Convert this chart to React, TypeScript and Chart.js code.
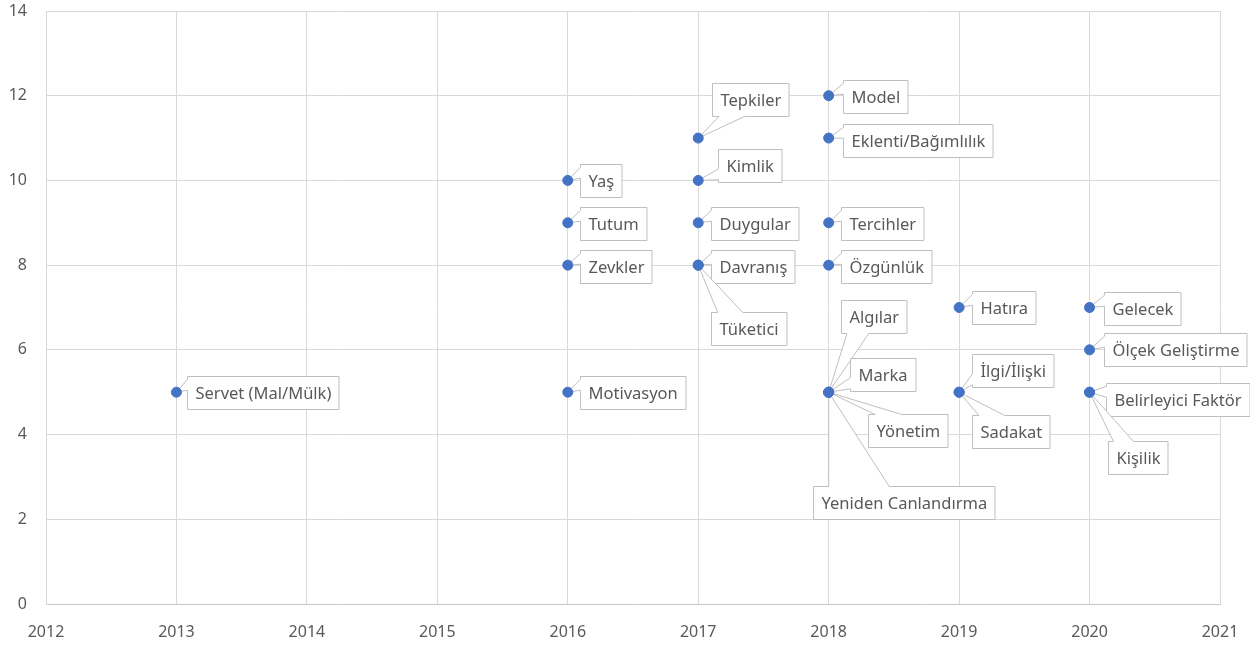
import React, { useEffect, useRef } from "react";
import { Chart, registerables } from "chart.js";

Chart.register(...registerables);

// ---- data ----
const labels = [
  "Servet (Mal/Mülk)",
  "Yaş", "Tutum", "Zevkler", "Motivasyon",
  "Tepkiler", "Kimlik", "Duygular", "Davranış", "Tüketici",
  "Model", "Eklenti/Bağımlılık", "Tercihler", "Özgünlük", "Algılar", "Marka", "Yönetim", "Yeniden Canlandırma",
  "Hatıra", "İlgi/İlişki", "Sadakat",
  "Gelecek", "Ölçek Geliştirme", "Belirleyici Faktör", "Kişilik",
];
const years = [
  2013,
  2016, 2016, 2016, 2016,
  2017, 2017, 2017, 2017, 2017,
  2018, 2018, 2018, 2018, 2018, 2018, 2018, 2018,
  2019, 2019, 2019,
  2020, 2020, 2020, 2020,
];
const counts = [
  5,
  10, 9, 8, 5,
  11, 10, 9, 8, 8,
  12, 11, 9, 8, 5, 5, 5, 5,
  7, 5, 5,
  7, 6, 5, 5,
];
const xTicks = [2012, 2013, 2014, 2015, 2016, 2017, 2018, 2019, 2020, 2021];
const yTicks = [0, 2, 4, 6, 8, 10, 12, 14];

// ---- label layout (pixel offsets of the callout box: left edge dx, center dy) ----
const labelOffsetX = [
  11,
  12, 12, 12, 12,
  14, 20, 13, 13, 13,
  14, 14, 12, 12, 12, 21, 39, -16,
  13, 13, 13,
  14, 14, 16, 18,
];
const labelOffsetY = [
  0,
  0, 1, 1, 0,
  -39, -15, 1, 1, 63,
  1, 2, 1, 1, -76, -18, 38, 110,
  0, -22, 39,
  1, 0, 7, 65,
];

const FONT = '16.5px "Noto Sans", sans-serif';
const TEXT_COLOR = "#595959";
const GRID = "#d9d9d9";
const BOX_H = 33;
const PAD = 8;

const calloutPlugin = {
  id: "callouts",
  beforeDatasetsDraw(chart: any) {
    const ctx = chart.ctx as CanvasRenderingContext2D;
    const xs = chart.scales.x;
    const ys = chart.scales.y;
    ctx.save();
    ctx.font = FONT;
    ctx.textBaseline = "middle";
    ctx.textAlign = "left";
    for (let i = 0; i < labels.length; i++) {
      const px = xs.getPixelForValue(years[i]);
      const py = ys.getPixelForValue(counts[i]);
      const tw = ctx.measureText(labels[i]).width;
      const w = tw + PAD * 2;
      const h = BOX_H;
      const L = Math.round(px + labelOffsetX[i]) + 0.5;
      const T = Math.round(py + labelOffsetY[i] - h / 2) + 0.5;
      const R = Math.round(L + w);
      const B = T + h;
      const cx = (L + R) / 2;
      const cy = (T + B) / 2;
      const dx = px - cx;
      const dy = py - cy;
      ctx.beginPath();
      ctx.moveTo(L, T);
      const horizontal = Math.abs(dx) / w > Math.abs(dy) / h;
      if (!horizontal && dy < 0) {
        const x1 = dx < 0 ? L + w / 12 : L + (7 * w) / 12;
        const x2 = dx < 0 ? L + (5 * w) / 12 : L + (11 * w) / 12;
        ctx.lineTo(x1, T);
        ctx.lineTo(px, py);
        ctx.lineTo(x2, T);
      }
      ctx.lineTo(R, T);
      if (horizontal && dx > 0) {
        const y1 = dy < 0 ? T + h / 12 : T + (7 * h) / 12;
        const y2 = dy < 0 ? T + (5 * h) / 12 : T + (11 * h) / 12;
        ctx.lineTo(R, y1);
        ctx.lineTo(px, py);
        ctx.lineTo(R, y2);
      }
      ctx.lineTo(R, B);
      if (!horizontal && dy > 0) {
        const x1 = dx < 0 ? L + w / 12 : L + (7 * w) / 12;
        const x2 = dx < 0 ? L + (5 * w) / 12 : L + (11 * w) / 12;
        ctx.lineTo(x2, B);
        ctx.lineTo(px, py);
        ctx.lineTo(x1, B);
      }
      ctx.lineTo(L, B);
      if (horizontal && dx < 0) {
        const y1 = dy < 0 ? T + h / 12 : T + (7 * h) / 12;
        const y2 = dy < 0 ? T + (5 * h) / 12 : T + (11 * h) / 12;
        ctx.lineTo(L, y2);
        ctx.lineTo(px, py);
        ctx.lineTo(L, y1);
      }
      ctx.closePath();
      ctx.fillStyle = "#ffffff";
      ctx.fill();
      ctx.strokeStyle = "#bfbfbf";
      ctx.lineWidth = 1;
      ctx.stroke();
      ctx.fillStyle = TEXT_COLOR;
      ctx.fillText(labels[i], L + PAD, cy + 1);
    }
    ctx.restore();
  },
};

export default function App() {
  const ref = useRef<HTMLCanvasElement>(null);
  useEffect(() => {
    document.body.style.margin = "0";
    const chart = new Chart(ref.current!, {
      type: "scatter",
      data: {
        datasets: [
          {
            data: years.map((x, i) => ({ x, y: counts[i] })),
            backgroundColor: "#4472C4",
            borderColor: "#4472C4",
            pointRadius: 5,
            pointHoverRadius: 5,
          },
        ],
      },
      options: {
        responsive: false,
        animation: false,
        layout: { padding: { top: 11, right: 30, left: 0, bottom: 0 } },
        plugins: { legend: { display: false }, tooltip: { enabled: false } },
        scales: {
          x: {
            type: "linear",
            min: 2012,
            max: 2021,
            afterBuildTicks: (s: any) => {
              s.ticks = xTicks.map((v) => ({ value: v }));
            },
            afterFit: (s: any) => {
              s.height = 46;
            },
            ticks: {
              padding: 0,
              color: TEXT_COLOR,
              font: { family: "Noto Sans", size: 16 },
              callback: (v: any) => String(v),
              maxRotation: 0,
            },
            grid: { color: GRID, drawTicks: true, tickLength: 19, tickColor: "rgba(0,0,0,0)", lineWidth: 1 },
            border: { color: "#c8c8c8", width: 1 },
          },
          y: {
            min: 0,
            max: 14,
            afterBuildTicks: (s: any) => {
              s.ticks = yTicks.map((v) => ({ value: v }));
            },
            afterFit: (s: any) => {
              s.width = 46;
            },
            ticks: {
              padding: 0,
              color: TEXT_COLOR,
              font: { family: "Noto Sans", size: 16 },
              callback: (v: any) => String(v),
            },
            grid: { color: GRID, drawTicks: true, tickLength: 19, tickColor: "rgba(0,0,0,0)", lineWidth: 1 },
            border: { color: GRID, width: 1 },
          },
        },
      },
      plugins: [calloutPlugin],
    });
    return () => chart.destroy();
  }, []);
  return (
    <div style={{ width: 1250, height: 650, background: "#fff" }}>
      <canvas ref={ref} width={1250} height={650} />
    </div>
  );
}
